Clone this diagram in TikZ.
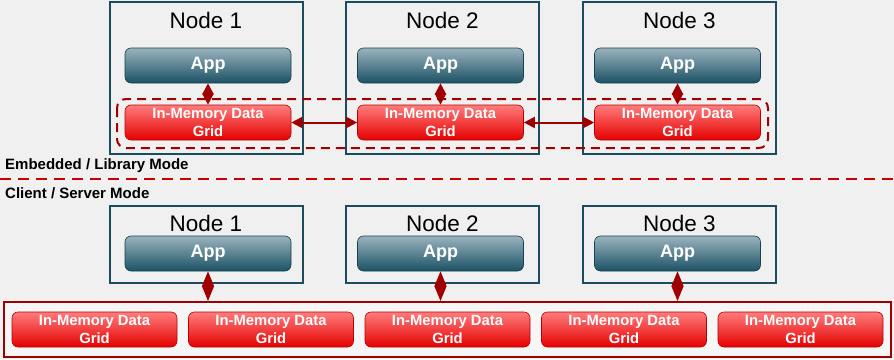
\documentclass[tikz,border=0pt]{standalone}
\usepackage{fontspec}
\setmainfont{Liberation Sans}
\usetikzlibrary{arrows.meta,positioning}
\definecolor{bg}{HTML}{F0F0F0}
\definecolor{teal}{HTML}{1C4D5E}
\definecolor{apptop}{HTML}{9AB3BE}
\definecolor{appbot}{HTML}{1B5265}
\definecolor{gridtop}{HTML}{FF7C7C}
\definecolor{gridbot}{HTML}{E50000}
\definecolor{gridedge}{HTML}{B80000}
\definecolor{darkred}{HTML}{A00000}
\definecolor{sepred}{HTML}{C80000}
\tikzset{
  nodebox/.style={draw=teal, line width=2pt, fill=bg, minimum width=193pt, inner sep=0pt},
  title/.style={font=\fontsize{22.5}{22.5}\selectfont, text=black, inner sep=0pt},
  appbox/.style={draw=appbot!80!black, line width=0.6pt, rounded corners=6pt, top color=apptop, bottom color=appbot,
     minimum width=166pt, minimum height=35pt, inner sep=0pt, text=white, font=\fontsize{18}{18}\selectfont\bfseries},
  gridbox/.style={draw=gridedge, line width=0.6pt, rounded corners=6pt, top color=gridtop, bottom color=gridbot,
     minimum width=166pt, minimum height=35pt, inner sep=0pt, text=white, align=center,
     font=\fontsize{14.8}{17.5}\selectfont\bfseries},
  link/.style={draw=darkred, line width=2pt, {Triangle[length=11pt,width=11pt]}-{Triangle[length=11pt,width=11pt]}},
  diam/.style={draw=darkred, fill=darkred, line width=1pt, {Triangle[length=15pt,width=12pt]}-{Triangle[length=15pt,width=12pt]}},
  modelabel/.style={font=\fontsize{15}{15}\selectfont\bfseries, anchor=west, inner sep=0pt, text=black}
}
\begin{document}
\begin{tikzpicture}[x=1pt,y=-1pt]
\useasboundingbox (0,0) rectangle (894,359);
\fill[bg] (0,0) rectangle (894,359);
% ---------- top: embedded mode ----------
\node[nodebox, minimum height=152pt] (t1) at (206,78) {};
\node[nodebox, minimum height=152pt] (t2) at (442.5,78) {};
\node[nodebox, minimum height=152pt] (t3) at (679.5,78) {};
\node[title] (tt1) at (206,20) {Node 1};
\node[title] (tt2) at (442.5,20) {Node 2};
\node[title] (tt3) at (679.5,20) {Node 3};
\node[appbox] (ta1) at (208,65.5) {App};
\node[appbox] (ta2) at (440.5,65.5) {App};
\node[appbox] (ta3) at (677.5,65.5) {App};
\node[gridbox] (tg1) at (208,122.5) {In-Memory Data\\Grid};
\node[gridbox] (tg2) at (440.5,122.5) {In-Memory Data\\Grid};
\node[gridbox] (tg3) at (677.5,122.5) {In-Memory Data\\Grid};
\draw[darkred, line width=2pt, dash pattern=on 9pt off 6pt, rounded corners=9pt] (117,99) rectangle (768,148);
\draw[link] (ta1) -- (tg1);
\draw[link] (ta2) -- (tg2);
\draw[link] (ta3) -- (tg3);
\draw[link] (tg1) -- (tg2);
\draw[link] (tg2) -- (tg3);
% ---------- separator ----------
\node[modelabel] (emb) at (5,166) {Embedded / Library Mode};
\coordinate (sepL) at (0,179);
\coordinate (sepR) at (894,179);
\draw[sepred, line width=2.6pt, dash pattern=on 11pt off 7pt] (sepL) -- (sepR);
\node[modelabel] (cs) at (5,193) {Client / Server Mode};
% ---------- bottom: client/server ----------
\node[nodebox, minimum height=77pt] (b1) at (206,244.5) {};
\node[nodebox, minimum height=77pt] (b2) at (442.5,244.5) {};
\node[nodebox, minimum height=77pt] (b3) at (679.5,244.5) {};
\node[title] (bt1) at (206,223) {Node 1};
\node[title] (bt2) at (442.5,223) {Node 2};
\node[title] (bt3) at (679.5,223) {Node 3};
\node[appbox] (ba1) at (208,253.5) {App};
\node[appbox] (ba2) at (440.5,253.5) {App};
\node[appbox] (ba3) at (677.5,253.5) {App};
\node[draw=darkred, line width=2pt, fill=bg!60!white, minimum width=887pt, minimum height=55pt, inner sep=0pt] (cont) at (447.5,329.5) {};
\node[gridbox, minimum width=165pt] (bg1) at (94.5,329.5) {In-Memory Data\\Grid};
\node[gridbox, minimum width=165pt] (bg2) at (271,329.5) {In-Memory Data\\Grid};
\node[gridbox, minimum width=165pt] (bg3) at (447.5,329.5) {In-Memory Data\\Grid};
\node[gridbox, minimum width=165pt] (bg4) at (624,329.5) {In-Memory Data\\Grid};
\node[gridbox, minimum width=165pt] (bg5) at (800.5,329.5) {In-Memory Data\\Grid};
\draw[diam] (ba1.south) -- (ba1.south |- cont.north);
\draw[diam] (ba2.south) -- (ba2.south |- cont.north);
\draw[diam] (ba3.south) -- (ba3.south |- cont.north);
\end{tikzpicture}
\end{document}
